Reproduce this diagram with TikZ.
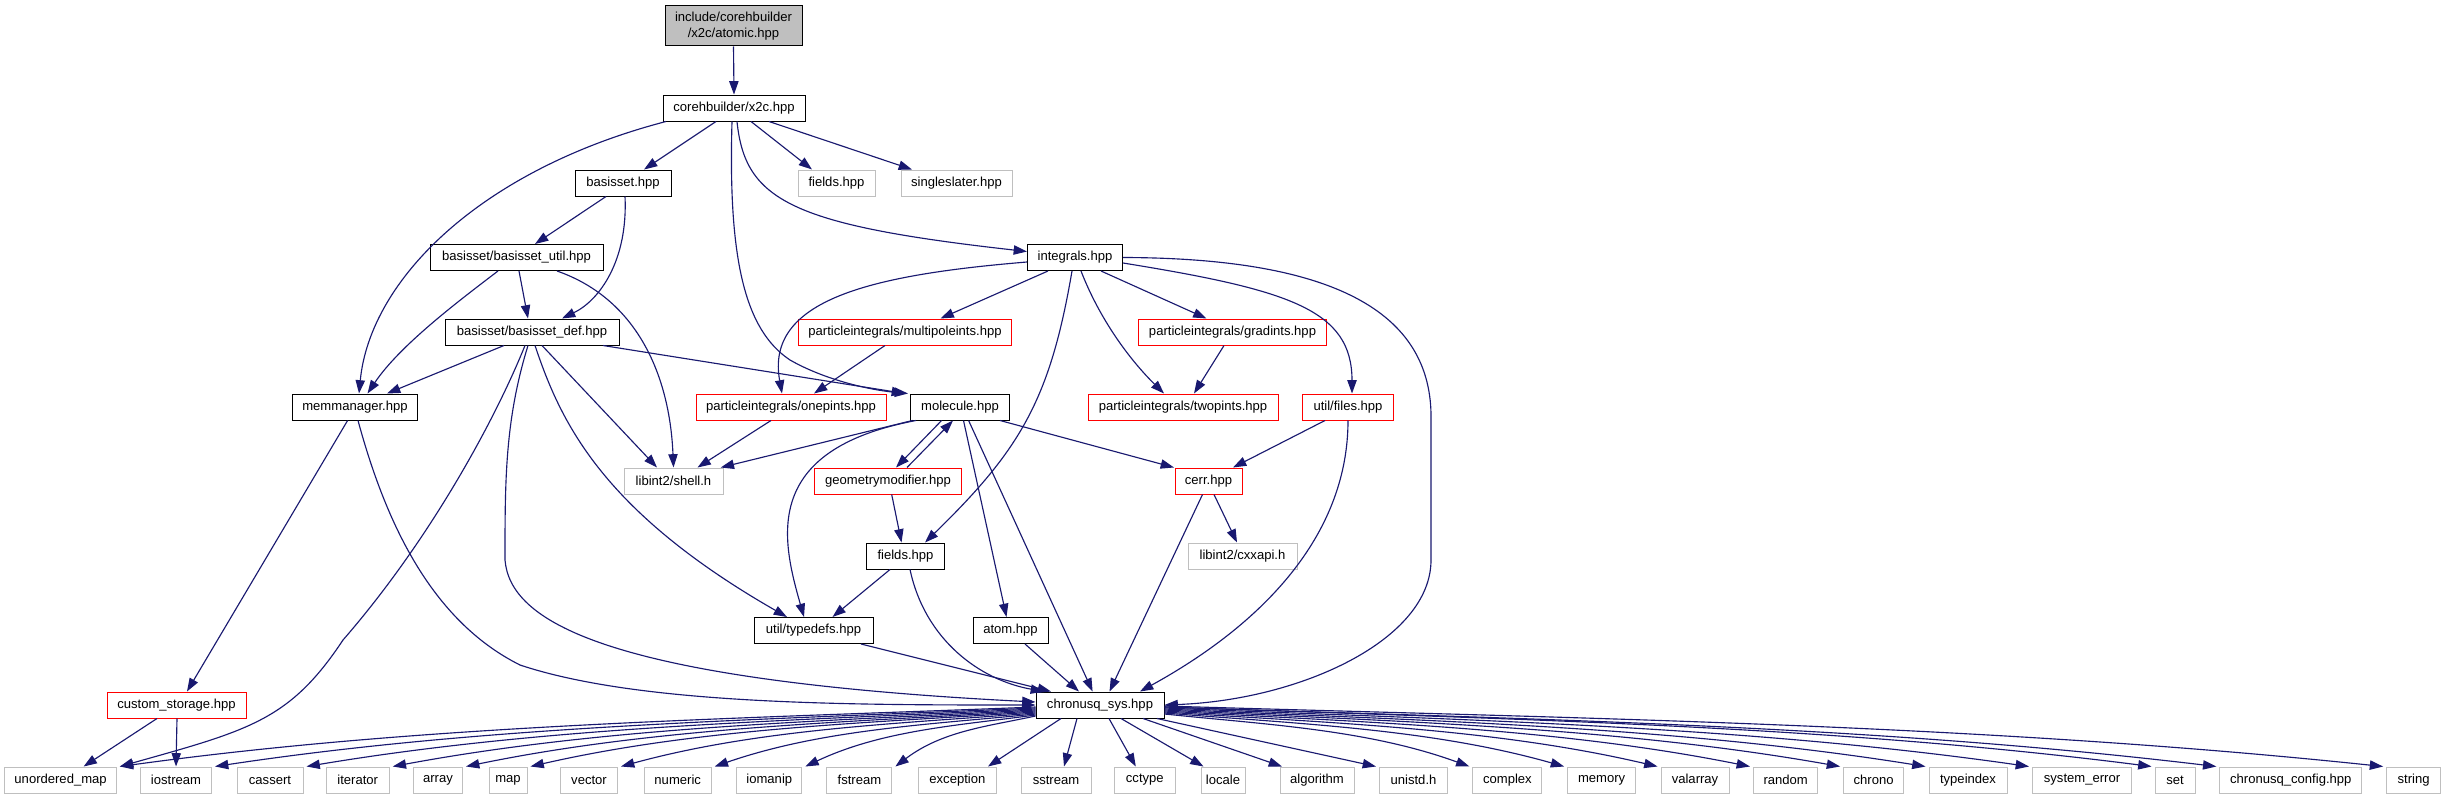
\documentclass[tikz,border=0pt]{standalone}
\usepackage{fontspec}
\setmainfont{Liberation Sans}
\usetikzlibrary{arrows.meta,calc}
\definecolor{edgec}{HTML}{191970}
\definecolor{extc}{HTML}{BFBFBF}
\begin{document}
\begin{tikzpicture}[x=0.75pt,y=-0.75pt,
  every node/.style={font=\fontsize{9.8}{11.8}\selectfont},
  box/.style={draw, line width=0.75pt, rectangle, inner sep=0pt, minimum height=19.5pt, fill=white},
  doc/.style={box, draw=black},
  ext/.style={box, draw=extc},
  trunc/.style={box, draw=red},
  wd/.style={minimum width=#1*0.75pt},
  edge/.style={draw=edgec, line width=0.85pt, -{Triangle[length=10pt,width=7pt]}},
]
\useasboundingbox (0,0) rectangle (2447,799);
\fill[white] (0,0) rectangle (2447,799);

% nodes
\node[doc, fill=extc, wd=137, minimum height=30pt, align=center] (atomic) at (733.5,26) {include/corehbuilder\\/x2c/atomic.hpp};
\node[doc, wd=142] (x2c) at (734,108) {corehbuilder/x2c.hpp};
\node[doc, wd=96] (basisset) at (623,183) {basisset.hpp};
\node[ext, wd=77] (fieldsG) at (836.5,183) {fields.hpp};
\node[ext, wd=111] (single) at (956.5,183) {singleslater.hpp};
\node[doc, wd=173] (bsutil) at (516.5,257.5) {basisset/basisset\_util.hpp};
\node[doc, wd=95] (integrals) at (1075,257.5) {integrals.hpp};
\node[doc, wd=174] (bsdef) at (532,332) {basisset/basisset\_def.hpp};
\node[trunc, wd=213] (multipole) at (905,332) {particleintegrals/multipoleints.hpp};
\node[trunc, wd=188] (gradints) at (1232.5,332) {particleintegrals/gradints.hpp};
\node[doc, wd=125] (memman) at (355,407) {memmanager.hpp};
\node[trunc, wd=190] (onepints) at (791,407) {particleintegrals/onepints.hpp};
\node[doc, wd=99] (molecule) at (960,407) {molecule.hpp};
\node[trunc, wd=190] (twopints) at (1183,407) {particleintegrals/twopints.hpp};
\node[trunc, wd=91] (files) at (1348,407) {util/files.hpp};
\node[ext, wd=99] (shell) at (673.5,481) {libint2/shell.h};
\node[trunc, wd=147] (geom) at (888,481) {geometrymodifier.hpp};
\node[trunc, wd=67] (cerr) at (1208.5,481) {cerr.hpp};
\node[doc, wd=78] (fields) at (905.5,556) {fields.hpp};
\node[ext, wd=109] (cxxapi) at (1242.5,556) {libint2/cxxapi.h};
\node[doc, wd=119] (typedefs) at (813.5,630.5) {util/typedefs.hpp};
\node[doc, wd=75] (atom) at (1010.5,630.5) {atom.hpp};
\node[trunc, wd=139] (custom) at (176.5,705) {custom\_storage.hpp};
\node[doc, wd=128] (sys) at (1100,705) {chronusq\_sys.hpp};

\foreach \n/\x/\w/\t in {
  b-um/60.6/111.6/unordered\_map, b-iostream/176/71/iostream, b-cassert/270/66/cassert,
  b-iterator/357.7/63/iterator, b-array/438/49/array, b-map/508/38/map,
  b-vector/589/57/vector, b-numeric/677.7/67/numeric, b-iomanip/769.3/65/iomanip,
  b-fstream/859.4/65/fstream, b-exception/957.4/78/exception, b-sstream/1056/70/sstream,
  b-cctype/1144.8/61/cctype, b-locale/1223/44/locale, b-algorithm/1317/74/algorithm,
  b-unistd/1413.5/68/unistd.h, b-complex/1507.4/69/complex, b-memory/1601.6/68/memory,
  b-valarray/1695/68/valarray, b-random/1785.7/64.5/random, b-chrono/1873.6/60/chrono,
  b-typeindex/1968/78/typeindex, b-syserr/2082/99/system\_error, b-set/2175/40/set,
  b-config/2290.8/142/chronusq\_config.hpp, b-string/2413.6/54/string}
  \node[ext, wd=\w] (\n) at (\x,780) {\t};

% edges
\draw[edge] (atomic.south) -- (x2c.north);
\draw[edge] ($(x2c.south)+(-18,0)$) -- ($(basisset.north)+(21,0)$);
\draw[edge] ($(x2c.south)+(17,0)$) -- ($(fieldsG.north)+(-24.5,0)$);
\draw[edge] ($(x2c.south)+(35,0)$) -- ($(single.north)+(-44.5,0)$);
\draw[edge] ($(x2c.south)+(3,0)$) .. controls (745,200) and (790,225) .. ($(integrals.west)+(0,-6)$);
\draw[edge] ($(x2c.south)+(-68,0)$) .. controls (480,170) and (370,280) .. ($(memman.north)+(4,0)$);
\draw[edge] ($(x2c.south)+(-2,0)$) .. controls (728,260) and (745,330) .. (790,360) .. controls (825,380) and (870,390) .. ($(molecule.north west)+(-2,0)$);

\draw[edge] ($(basisset.south)+(-17,0)$) -- ($(bsutil.north)+(18.5,0)$);
\draw[edge] ($(basisset.south)+(2,0)$) .. controls (628,260) and (600,300) .. ($(bsdef.north)+(30,0)$);
\draw[edge] ($(bsutil.south)+(2.5,0)$) -- ($(bsdef.north)+(-4,0)$);
\draw[edge] ($(bsutil.south)+(-18.5,0)$) .. controls (460,300) and (400,345) .. ($(memman.north)+(12.5,0)$);
\draw[edge] ($(bsutil.south)+(40.5,0)$) .. controls (640,300) and (670,380) .. (shell.north);

\draw[edge] ($(bsdef.south)+(-28,0)$) -- ($(memman.north)+(32,0)$);
\draw[edge] ($(bsdef.south)+(71,0)$) -- ($(molecule.north west)+(-5,0)$);
\draw[edge] ($(bsdef.south)+(10,0)$) -- ($(shell.north)+(-16.5,0)$);
\draw[edge] ($(bsdef.south)+(3,0)$) .. controls (560,420) and (600,510) .. ($(typedefs.north)+(-26.5,0)$);
\draw[edge] ($(bsdef.south)+(-4,0)$) .. controls (505,420) and (505,480) .. (505,560) .. controls (510,620) and (600,680) .. ($(sys.west)+(0,-3)$);
\draw[edge] ($(bsdef.south)+(-7,0)$) .. controls (495,420) and (430,540) .. (343,640) .. controls (290,720) and (250,730) .. ($(b-um.north east)+(3,0)$);

\draw[edge] ($(integrals.west)+(0,4.5)$) .. controls (870,275) and (765,300) .. ($(onepints.north)+(-9,0)$);
\draw[edge] ($(integrals.south)+(-27,0)$) -- ($(multipole.north)+(35.5,0)$);
\draw[edge] ($(integrals.south)+(26,0)$) -- ($(gradints.north)+(-26,0)$);
\draw[edge] ($(integrals.south)+(6,0)$) .. controls (1100,320) and (1130,360) .. ($(twopints.north)+(-19,0)$);
\draw[edge] ($(integrals.east)+(0,5.5)$) .. controls (1290,290) and (1352,310) .. ($(files.north)+(4,0)$);
\draw[edge] ($(integrals.south)+(-3,0)$) .. controls (1050,400) and (1020,450) .. ($(fields.north)+(19.5,0)$);
\draw[edge] (integrals.east) .. controls (1330,258) and (1433,310) .. (1431,420) -- (1431,560) .. controls (1431,640) and (1300,700) .. (sys.east);

\draw[edge] ($(multipole.south)+(-20,0)$) -- ($(onepints.north)+(23,0)$);
\draw[edge] ($(gradints.south)+(-8.5,0)$) -- ($(twopints.north)+(11,0)$);
\draw[edge] ($(onepints.south)+(-20,0)$) -- ($(shell.north)+(24,0)$);

\draw[edge] ($(molecule.south west)+(2.4,0)$) -- ($(shell.north east)+(-2.8,0)$);
\draw[edge] ($(molecule.south)+(-18.4,0)$) -- ($(geom.north)+(8,0)$);
\draw[edge] ($(geom.north)+(19,0)$) -- ($(molecule.south)+(-7,0)$);
\draw[edge] ($(molecule.south)+(-44,0)$) .. controls (760,450) and (782,540) .. ($(typedefs.north)+(-9.5,0)$);
\draw[edge] ($(molecule.south)+(3.5,0)$) -- ($(atom.north)+(-4,0)$);
\draw[edge] ($(molecule.south)+(8.6,0)$) -- ($(sys.north)+(-7.4,0)$);
\draw[edge] ($(molecule.south)+(40,0)$) -- ($(cerr.north)+(-34.5,0)$);

\draw[edge] ($(files.south)+(-23,0)$) -- ($(cerr.north)+(24.5,0)$);
\draw[edge] (files.south) .. controls (1348,530) and (1270,620) .. ($(sys.north)+(40,0)$);
\draw[edge] ($(cerr.south)+(5.5,0)$) -- ($(cxxapi.north)+(-5.5,0)$);
\draw[edge] ($(cerr.south)+(-6,0)$) -- ($(sys.north)+(9.5,0)$);
\draw[edge] ($(geom.south)+(3.7,0)$) -- ($(fields.north)+(-4,0)$);
\draw[edge] ($(fields.south)+(-15.5,0)$) -- ($(typedefs.north)+(19,0)$);
\draw[edge] ($(fields.south)+(4.5,0)$) .. controls (925,640) and (980,680) .. ($(sys.north)+(-56,0)$);
\draw[edge] ($(typedefs.south)+(47.5,0)$) -- ($(sys.north)+(-49,0)$);
\draw[edge] ($(atom.south)+(14.5,0)$) -- ($(sys.north)+(-21,0)$);

\draw[edge] ($(memman.south)+(-7.4,0)$) -- ($(custom.north)+(10.5,0)$);
\draw[edge] ($(memman.south)+(3,0)$) .. controls (385,520) and (430,620) .. (520,665) .. controls (640,705) and (850,705) .. (sys.west);
\draw[edge] ($(custom.south)+(-19.5,0)$) -- ($(b-um.north)+(23,0)$);
\draw[edge] ($(custom.south)+(0.5,0)$) -- (b-iostream.north);

% chronusq_sys to bottom row
\foreach \n/\sy/\d in {b-um/707/917, b-iostream/708/822, b-cassert/709/730,
  b-iterator/710/644, b-array/711/570, b-map/712/506, b-vector/713/415,
  b-numeric/714/322, b-iomanip/715/231, b-fstream/716/141}
  \draw[edge] ($(sys.west)+(0,\sy-705)$) .. controls +({-\d/3},{0.2*(767-\sy)}) and +({\d/3},{-0.7*(767-\sy)}) .. ($(\n.north east)+(3,0)$);

\draw[edge] ($(sys.south)+(-39,0)$) -- ($(b-exception.north)+(30.6,0)$);
\draw[edge] ($(sys.south)+(-23,0)$) -- ($(b-sstream.north)+(8,0)$);
\draw[edge] ($(sys.south)+(9,0)$) -- ($(b-cctype.north)+(-9,0)$);
\draw[edge] ($(sys.south)+(21,0)$) -- ($(b-locale.north)+(-19.5,0)$);
\draw[edge] ($(sys.south)+(43,0)$) -- ($(b-algorithm.north)+(-35,0)$);
\draw[edge] ($(sys.south)+(57,0)$) -- ($(b-unistd.north west)+(-3,0)$);

\foreach \n/\sy/\d in {b-complex/714/306, b-memory/713/400, b-valarray/712/494,
  b-random/711/586, b-chrono/710/676, b-typeindex/709/762, b-syserr/708/866,
  b-set/707/988, b-config/707/1053, b-string/706/1219}
  \draw[edge] ($(sys.east)+(0,\sy-705)$) .. controls +({\d/3},{0.2*(767-\sy)}) and +({-\d/3},{-0.7*(767-\sy)}) .. ($(\n.north west)+(-3,0)$);
\end{tikzpicture}
\end{document}
